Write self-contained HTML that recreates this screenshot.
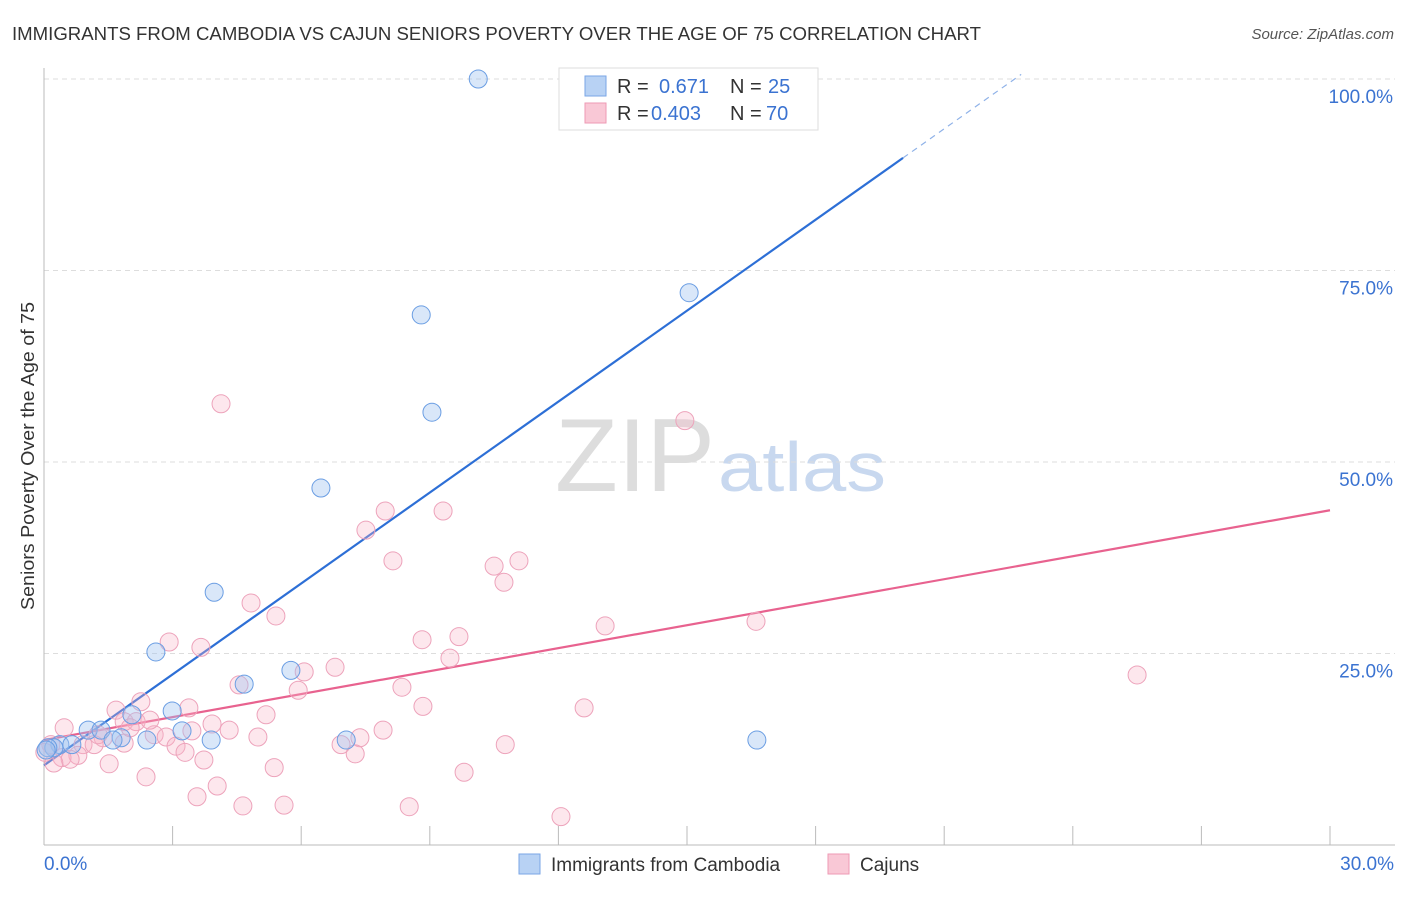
<!DOCTYPE html>
<html><head><meta charset="utf-8"><style>
body{margin:0;background:#fff;font-family:"Liberation Sans",sans-serif}
svg text{font-family:"Liberation Sans",sans-serif}
</style></head><body>
<svg width="1406" height="892" id="chart">
<text x="12" y="40" font-size="18" fill="#333" textLength="969" lengthAdjust="spacingAndGlyphs">IMMIGRANTS FROM CAMBODIA VS CAJUN SENIORS POVERTY OVER THE AGE OF 75 CORRELATION CHART</text>
<text x="1394" y="39" font-size="15" fill="#555" font-style="italic" text-anchor="end">Source: ZipAtlas.com</text>
<text x="34" y="456" font-size="18" fill="#333" text-anchor="middle" textLength="308" lengthAdjust="spacingAndGlyphs" transform="rotate(-90 34 456)">Seniors Poverty Over the Age of 75</text>
<text x="555" y="491" font-size="104" fill="#ddd" textLength="160" lengthAdjust="spacingAndGlyphs" font-family="Liberation Serif">ZIP</text>
<text x="718" y="491" font-size="70" fill="#c8d8ef" textLength="168" lengthAdjust="spacingAndGlyphs">atlas</text>
<g id="grid"></g><g id="axes"></g><g id="trends"></g><g id="pts"></g>
<g>
<rect x="559" y="68" width="259" height="62" fill="#fff" stroke="#ddd"/>
<rect x="585" y="76" width="21" height="20" fill="#b8d2f4" stroke="#7aa6e6"/>
<rect x="585" y="103" width="21" height="20" fill="#f9c8d6" stroke="#ee9ab4"/>
<text x="617" y="93" font-size="20" fill="#333">R = </text><text x="659" y="93" font-size="20" fill="#3b73d1">0.671</text>
<text x="730" y="93" font-size="20" fill="#333">N = </text><text x="768" y="93" font-size="20" fill="#3b73d1">25</text>
<text x="617" y="120" font-size="20" fill="#333">R = </text><text x="651" y="120" font-size="20" fill="#3b73d1">0.403</text>
<text x="730" y="120" font-size="20" fill="#333">N = </text><text x="766" y="120" font-size="20" fill="#3b73d1">70</text>
</g>
<g>
<rect x="519" y="854" width="21" height="20" fill="#b8d2f4" stroke="#7aa6e6"/>
<text x="551" y="871" font-size="19" fill="#333">Immigrants from Cambodia</text>
<rect x="828" y="854" width="21" height="20" fill="#f9c8d6" stroke="#ee9ab4"/>
<text x="860" y="871" font-size="19" fill="#333">Cajuns</text>
</g>
</svg>
<script>
const xTicks=[0,3,6,9,12,15,18,21,24,27,30];
const yTicks=[25,50,75,100];
const yTickLabels=["25.0%","50.0%","75.0%","100.0%"];
const xEndLabels=["0.0%","30.0%"];
const blueX=[10.13,8.80,15.05,9.05,6.46,3.97,2.61,4.67,5.76,2.99,3.22,2.05,1.03,1.33,1.80,1.61,2.40,3.90,7.05,16.63,0.37,0.65,0.23,0.09,0.05];
const blueY=[100,69.2,72.1,56.5,46.6,33.0,25.2,21.0,22.8,17.5,14.9,17.0,15.0,15.0,14.0,13.7,13.7,13.7,13.7,13.7,13.1,13.1,12.7,12.7,12.4];
const pinkX=[4.13,14.95,7.96,9.31,7.51,8.14,11.08,10.50,10.73,4.83,5.41,2.92,3.66,9.68,8.82,13.09,16.61,9.47,6.79,6.07,25.50,4.55,5.93,8.35,2.26,3.38,1.68,5.18,8.84,12.60,1.87,2.15,3.92,0.47,4.32,1.38,2.57,2.85,3.45,4.99,7.37,7.91,3.08,1.87,0.91,1.17,6.93,7.26,10.76,0.79,3.29,0.42,3.73,0.61,0.23,1.52,5.37,2.38,9.80,4.04,3.57,4.64,5.60,8.52,12.06,0.16,0.02,2.01,1.26,2.47];
const pinkY=[57.6,55.4,43.6,43.6,41.1,37.1,37.1,36.4,34.3,31.6,29.9,26.5,25.8,27.2,26.8,28.6,29.2,24.4,23.2,22.6,22.2,20.9,20.2,20.6,18.7,17.9,17.6,17.0,18.1,17.9,16.1,16.1,15.8,15.3,15.0,14.0,14.4,14.1,14.9,14.1,14.0,15.0,12.9,13.3,13.1,13.1,13.1,11.9,13.1,11.7,12.1,11.4,11.1,11.2,10.7,10.6,10.1,8.9,9.5,7.7,6.3,5.1,5.2,5.0,3.7,13.1,12.1,15.3,14.4,16.3];
const blueTrend=[10.4,3.957];
const pinkTrend=[13.7,1.0];
const NS='http://www.w3.org/2000/svg';
const X=v=>44+v/30*1286, Y=v=>845-v/100*766;
function mk(t,a,p){const e=document.createElementNS(NS,t);for(const k in a)e.setAttribute(k,a[k]);document.getElementById(p).appendChild(e);return e;}
yTicks.forEach((t,i)=>{
 const g=mk('line',{x1:44,x2:1395,y1:Y(t),y2:Y(t),stroke:'#ddd','stroke-dasharray':'5,4'},'grid');
 
 
 const l=mk('text',{x:1393,y:Y(t)+24,'font-size':19,fill:'#3b73d1','text-anchor':'end'},'axes');l.textContent=yTickLabels[i];
 
 
});
mk('line',{x1:44,x2:44,y1:68,y2:845,stroke:'#bbb'},'axes');
mk('line',{x1:44,x2:1395,y1:845,y2:845,stroke:'#bbb'},'axes');
xTicks.forEach(t=>{const k=mk('line',{x1:X(t),x2:X(t),y1:826,y2:845,stroke:'#bbb'},'axes');
 
 });
const a=mk('text',{x:44,y:870,'font-size':19,fill:'#3b73d1'},'axes');a.textContent=xEndLabels[0];


const b=mk('text',{x:1394,y:870,'font-size':19,fill:'#3b73d1','text-anchor':'end'},'axes');b.textContent=xEndLabels[1];


pinkX.forEach((x,i)=>{const c=mk('circle',{cx:X(x),cy:Y(pinkY[i]),r:9,fill:'rgba(248,180,200,0.32)',stroke:'#eda3bb','stroke-width':1},'pts');
 
 });
blueX.forEach((x,i)=>{const c=mk('circle',{cx:X(x),cy:Y(blueY[i]),r:9,fill:'rgba(160,196,240,0.4)',stroke:'#6b9ee3','stroke-width':1},'pts');
 
 });
const bx1=20.04,bx2=(100.6-blueTrend[0])/blueTrend[1];
const t1=mk('line',{x1:X(0),y1:Y(blueTrend[0]),x2:X(bx1),y2:Y(blueTrend[0]+blueTrend[1]*bx1),stroke:'#2d6fd6','stroke-width':2.2},'trends');


const t2=mk('line',{x1:X(bx1),y1:Y(blueTrend[0]+blueTrend[1]*bx1),x2:X(bx2),y2:Y(blueTrend[0]+blueTrend[1]*bx2),stroke:'#8fb2e8','stroke-width':1.2,'stroke-dasharray':'6,5'},'trends');


const t3=mk('line',{x1:X(0),y1:Y(pinkTrend[0]),x2:X(30),y2:Y(pinkTrend[0]+pinkTrend[1]*30),stroke:'#e8628f','stroke-width':2.2},'trends');


</script>
</body></html>
